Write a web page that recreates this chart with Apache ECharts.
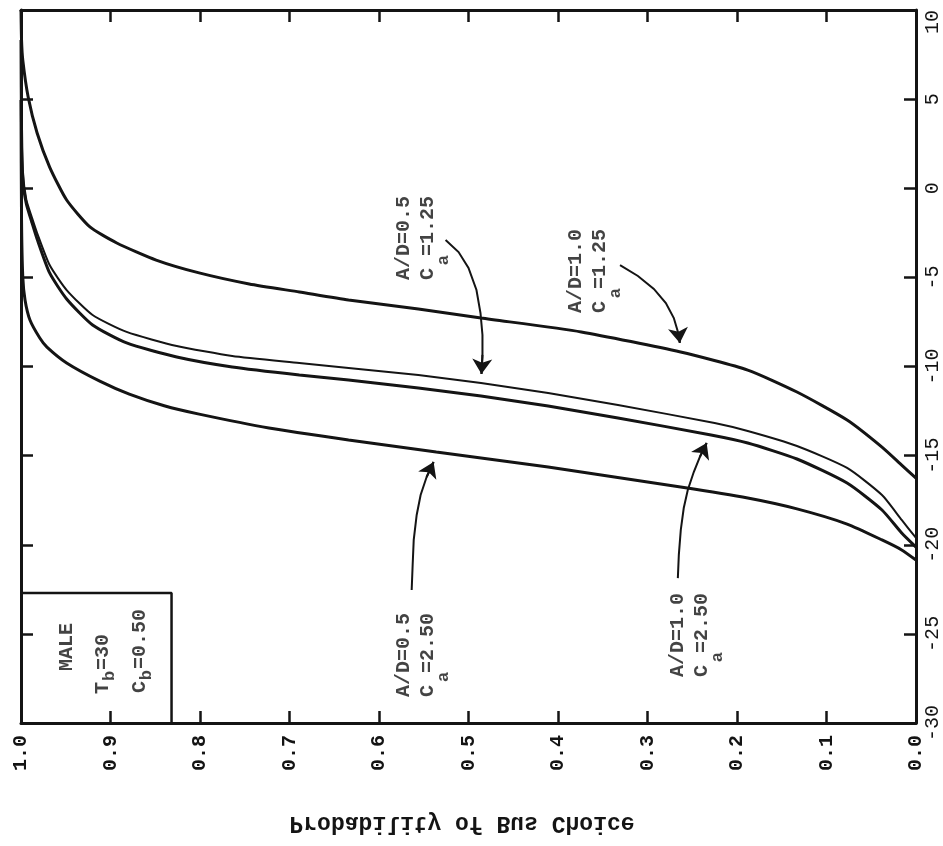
<!DOCTYPE html>
<html><head><meta charset="utf-8">
<script src="https://cdn.jsdelivr.net/npm/echarts@6/dist/echarts.min.js"></script>
<style>html,body{margin:0;padding:0;background:#fff}#c{width:943px;height:846px}</style>
</head><body><div id="c"></div>
<script>
// ---- data: [probability of bus choice, horizontal variable] ----
const curveAD10Ca125 = [[1.000,10.00],[0.9994,8.32],[0.998,7.19],[0.992,5.12],[0.982,3.10],[0.968,1.19],[0.949,-0.66],[0.923,-2.17],[0.893,-3.07],[0.849,-4.03],[0.801,-4.75],[0.745,-5.37],[0.689,-5.82],[0.634,-6.27],[0.556,-6.77],[0.486,-7.28],[0.374,-8.06],[0.263,-9.19],[0.188,-10.20],[0.133,-11.43],[0.077,-13.00],[0.038,-14.52],[0.016,-15.53],[0.000,-16.26]];
const curveAD05Ca125 = [[1.000,8.88],[0.9994,3.83],[0.998,1.02],[0.994,-0.66],[0.988,-1.61],[0.982,-2.51],[0.968,-4.31],[0.949,-5.71],[0.920,-7.11],[0.882,-8.06],[0.826,-8.85],[0.764,-9.41],[0.689,-9.80],[0.634,-10.08],[0.556,-10.48],[0.486,-10.93],[0.411,-11.49],[0.333,-12.16],[0.225,-13.17],[0.188,-13.62],[0.133,-14.46],[0.077,-15.69],[0.038,-17.21],[0.016,-18.61],[0.000,-19.62]];
const curveAD10Ca250 = [[1.000,8.32],[0.9994,3.27],[0.998,0.46],[0.994,-0.88],[0.988,-1.89],[0.982,-2.85],[0.968,-4.75],[0.949,-6.21],[0.920,-7.67],[0.882,-8.68],[0.826,-9.47],[0.764,-10.03],[0.689,-10.48],[0.634,-10.76],[0.556,-11.21],[0.486,-11.66],[0.411,-12.22],[0.333,-12.89],[0.229,-13.84],[0.188,-14.29],[0.133,-15.19],[0.077,-16.54],[0.038,-18.05],[0.016,-19.34],[0.000,-20.13]];
const curveAD05Ca250 = [[1.000,4.95],[0.9994,-1.78],[0.998,-4.98],[0.9955,-6.27],[0.990,-7.39],[0.979,-8.40],[0.971,-8.91],[0.949,-9.80],[0.912,-10.82],[0.879,-11.55],[0.840,-12.20],[0.801,-12.67],[0.723,-13.45],[0.634,-14.12],[0.536,-14.80],[0.411,-15.64],[0.263,-16.76],[0.188,-17.38],[0.133,-17.99],[0.077,-18.84],[0.038,-19.73],[0.016,-20.29],[0.000,-20.86]];

const probTickLabels = ['0.0','0.1','0.2','0.3','0.4','0.5','0.6','0.7','0.8','0.9','1.0'];
const varTickLabels = ['-30','-25','-20','-15','-10','-5','0','5','10'];
const axisTitle = 'Probability of Bus Choice';

// annotations (data coordinates)
const noteTexts = ['A/D=0.5\nC =1.25','A/D=1.0\nC =1.25','A/D=0.5\nC =2.50','A/D=1.0\nC =2.50'];
const noteAt = [[0.5852,-5.15],[0.3937,-7.00],[0.5852,-28.54],[0.2790,-27.42]];
const noteSubAt = [[0.5273,-4.03],[0.3358,-5.88],[0.5273,-27.42],[0.2211,-26.30]];
const arrow1 = [[0.5256,-2.90],[0.5111,-3.58],[0.5000,-4.47],[0.4911,-5.71],[0.4866,-7.00],[0.4844,-8.23],[0.4844,-9.35],[0.4855,-10.42]];
const arrow2 = [[0.3307,-4.31],[0.3107,-4.92],[0.2929,-5.65],[0.2795,-6.44],[0.2706,-7.28],[0.2650,-8.23],[0.2639,-8.68]];
const arrow3 = [[0.5635,-22.54],[0.5624,-21.14],[0.5612,-19.73],[0.5579,-18.33],[0.5535,-17.21],[0.5468,-16.20],[0.5390,-15.36]];
const arrow4 = [[0.2661,-21.87],[0.2650,-20.57],[0.2628,-19.17],[0.2595,-17.94],[0.2550,-16.93],[0.2483,-15.92],[0.2416,-15.08],[0.2339,-14.29]];
const boxTexts = ['MALE','T =30','C =0.50'];
const boxTextAt = [[0.9488,-25.74],[0.9087,-26.69],[0.8675,-25.96]];
const boxSubAt = [[0.9009,-27.36],[0.8597,-27.31]];
const boxCorner = [[1.0,-22.71],[0.8318,-22.71],[0.8318,-30]];

const ink = '#141414';
const mono = '"Liberation Mono","DejaVu Sans Mono",monospace';
const chart = echarts.init(document.getElementById('c'));
const arrows = [arrow1,arrow2,arrow3,arrow4];

function axisBase(extra){
  return Object.assign({
    type:'value',
    axisLine:{show:true,onZero:false,lineStyle:{color:ink,width:3}},
    axisTick:{show:true,inside:true,length:12,lineStyle:{color:ink,width:2.5}},
    splitLine:{show:false}
  }, extra);
}
function curve(data,w){
  return {type:'line',xAxisIndex:0,yAxisIndex:0,data:data,symbol:'none',smooth:0.2,
    lineStyle:{color:ink,width:w},silent:true,z:3};
}
const labelBase = {show:true,position:'inside',rotate:90,fontFamily:mono,fontSize:20,fontWeight:'bold',color:ink};

chart.setOption({
  animation:false,
  backgroundColor:'#fff',
  grid:{left:21,right:24,top:10,bottom:123},
  xAxis:[
    axisBase({position:'bottom',min:0,max:1,interval:0.1,inverse:true,
      axisLabel:{rotate:90,margin:12,fontFamily:mono,fontSize:20,fontWeight:'bold',color:ink,
        formatter:v=>probTickLabels[Math.round(v*10)]}}),
    axisBase({position:'top',min:0,max:1,interval:0.1,inverse:true,axisLabel:{show:false}})
  ],
  yAxis:[
    axisBase({position:'right',min:-30,max:10,interval:5,
      axisLabel:{rotate:90,margin:7,fontFamily:mono,fontSize:20,color:ink,alignMaxLabel:'right',
        formatter:v=>varTickLabels[Math.round((v+30)/5)]}}),
    axisBase({position:'left',min:-30,max:10,interval:5,axisLabel:{show:false}})
  ],
  series:[
    curve(curveAD10Ca125,3),
    curve(curveAD05Ca125,2),
    curve(curveAD10Ca250,3),
    curve(curveAD05Ca250,3),
    {type:'line',data:boxCorner,symbol:'none',lineStyle:{color:ink,width:2.5},silent:true,z:3},
    {type:'lines',coordinateSystem:'cartesian2d',xAxisIndex:0,yAxisIndex:0,polyline:true,
      symbol:'none',silent:true,z:4,
      lineStyle:{color:ink,width:2,opacity:1,curveness:0},
      data:arrows.map(c=>({coords:c}))},
    {type:'lines',coordinateSystem:'cartesian2d',xAxisIndex:0,yAxisIndex:0,polyline:false,
      symbol:['none','arrow'],symbolSize:15,silent:true,z:4,
      lineStyle:{color:ink,width:2,opacity:1,curveness:0},
      data:arrows.map(c=>({coords:[c[c.length-2],c[c.length-1]]}))},
    {type:'scatter',symbolSize:1,itemStyle:{color:'rgba(0,0,0,0)'},silent:true,z:5,
      label:Object.assign({},labelBase,{align:'left',verticalAlign:'top',lineHeight:24}),
      data:noteTexts.map((t,i)=>({value:noteAt[i],label:{formatter:t}}))},
    {type:'scatter',symbolSize:1,itemStyle:{color:'rgba(0,0,0,0)'},silent:true,z:5,
      label:Object.assign({},labelBase,{align:'center',verticalAlign:'middle',fontSize:17}),
      data:noteSubAt.map(p=>({value:p,label:{formatter:'a'}}))},
    {type:'scatter',symbolSize:1,itemStyle:{color:'rgba(0,0,0,0)'},silent:true,z:5,
      label:Object.assign({},labelBase,{align:'center',verticalAlign:'middle'}),
      data:boxTexts.map((t,i)=>({value:boxTextAt[i],label:{formatter:t}}))},
    {type:'scatter',symbolSize:1,itemStyle:{color:'rgba(0,0,0,0)'},silent:true,z:5,
      label:Object.assign({},labelBase,{align:'center',verticalAlign:'middle',fontSize:17}),
      data:boxSubAt.map(p=>({value:p,label:{formatter:'b'}}))}
  ],
  graphic:[{type:'text',x:462,y:823,scaleY:-1,silent:true,
    style:{text:axisTitle,fontFamily:mono,fontSize:23,fontWeight:'bold',fill:ink,align:'center',verticalAlign:'middle',
      textAlign:'center',textVerticalAlign:'middle'}}]
});
</script></body></html>
